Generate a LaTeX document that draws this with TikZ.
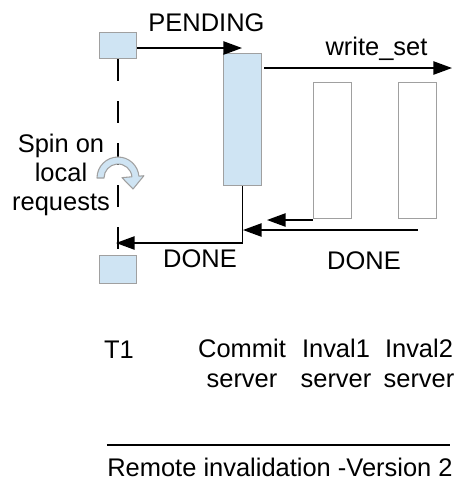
\documentclass[tikz,border=0pt]{standalone}
\usepackage{fontspec}
\setmainfont{Liberation Sans}
\usetikzlibrary{arrows.meta}

\definecolor{boxfill}{HTML}{CFE4F3}
\definecolor{boxedge}{HTML}{A0A0A0}

\tikzset{
  lbl/.style={font=\fontsize{19.1}{22.5}\selectfont, inner sep=0pt, align=center},
  bar/.style={draw=boxedge, line width=1.1pt, inner sep=0pt, anchor=north west},
  filled/.style={bar, fill=boxfill},
  hollow/.style={bar, fill=white},
  msg/.style={draw=black, line width=1.1pt, -{Triangle[length=14pt, width=10pt]}},
  lifeline/.style={draw=black, line width=1.1pt, dash pattern=on 16.5pt off 15pt}
}

\begin{document}
\begin{tikzpicture}[x=0.75pt, y=-0.75pt]
\useasboundingbox (0,0) rectangle (458,480);

% activation boxes
\node[filled, minimum width=27.75pt, minimum height=19.5pt] (t1a) at (99,32) {};
\node[filled, minimum width=27.75pt, minimum height=21pt] (t1b) at (99,255) {};
\node[filled, minimum width=28.5pt, minimum height=99pt] (commit) at (223,53) {};
\node[hollow, minimum width=28.5pt, minimum height=102pt] (inv1) at (313,82) {};
\node[hollow, minimum width=28.5pt, minimum height=102pt] (inv2) at (398,82) {};

% T1 lifeline
\draw[lifeline] (t1a.south) -- (t1b.north);

% message end points
\coordinate (pend) at (242,48);
\coordinate (ws) at (452,68);
\coordinate (done1) at (116,243);
\coordinate (i1end) at (267,220);
\coordinate (i2end) at (243,230);

% messages
\draw[msg] (t1a.east |- pend) -- (pend);
\draw[msg] ([xshift=1.5pt]commit.east |- ws) -- (ws);
\draw[msg] (commit.south) -- (commit.south |- done1) -- (done1);
\draw[msg] (inv1.south west |- i1end) -- (i1end);
\draw[msg] (inv2.south |- i2end) -- (i2end);

% message labels
\node[lbl, anchor=base] (lpend) at (206.5,31) {PENDING};
\node[lbl, anchor=base] (lws) at (376.5,55) {write\_set};
\node[lbl, anchor=base] (ldone1) at (200,267) {DONE};
\node[lbl, anchor=base] (ldone2) at (364,269) {DONE};

% spinning T1 (base anchor sits on the last line)
\node[lbl, anchor=base, font=\fontsize{19.1}{21.75}\selectfont] (spin) at (61,210) {Spin on\\local\\requests};
\draw[draw=boxedge, fill=boxfill, line width=0.8pt, line join=round]
  (97,178) arc[start angle=180, end angle=355, radius=21]
  -- (143.9,175.73) -- (133,189) -- (121.98,177.65) -- (131.95,176.78)
  arc[start angle=355, end angle=180, radius=14] -- cycle;

% participant names
\node[lbl, anchor=base] (nt1) at (119,358) {T1};
\node[lbl, anchor=base] (ncommit) at (242,387) {Commit\\server};
\node[lbl, anchor=base] (ninv1) at (336,387) {Inval1\\server};
\node[lbl, anchor=base] (ninv2) at (419,387) {Inval2\\server};

% caption
\draw[line width=1pt] (107,445) -- (450,445);
\node[lbl, anchor=base] (caption) at (280,476) {Remote invalidation -Version 2};
\end{tikzpicture}
\end{document}
